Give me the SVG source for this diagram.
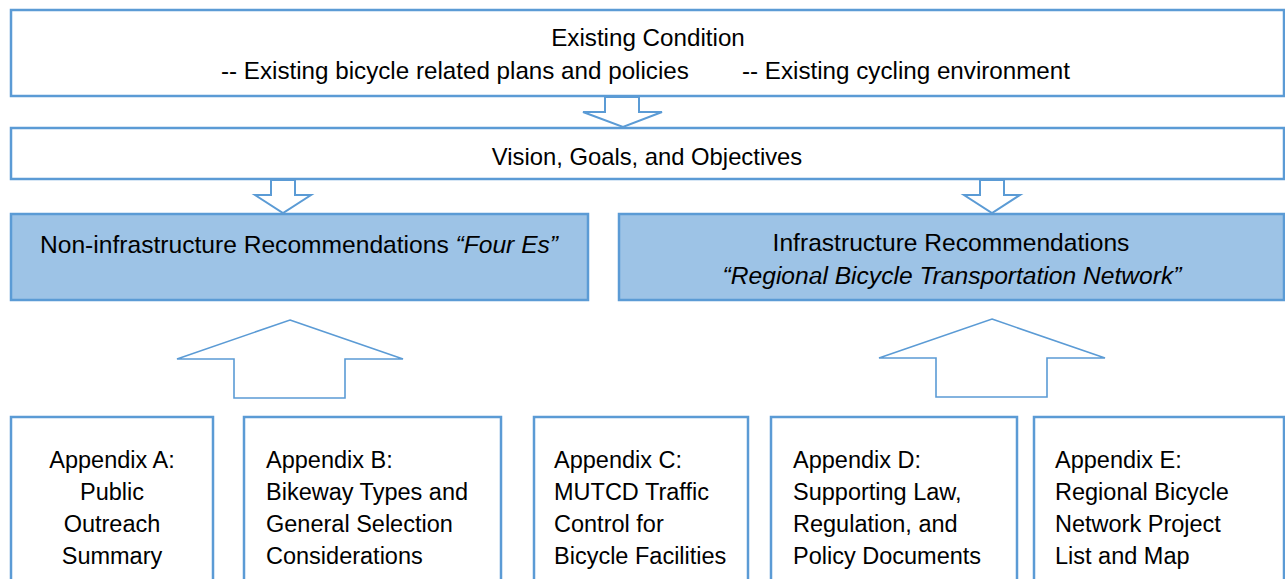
<svg xmlns="http://www.w3.org/2000/svg" width="1285" height="579" viewBox="0 0 1285 579">
<style>
.box{fill:#ffffff;stroke:#5B9BD5;stroke-width:2.5}
.blue{fill:#9DC3E6;stroke:#5B9BD5;stroke-width:2.5}
.arr{fill:#ffffff;stroke:#5B9BD5;stroke-width:2;stroke-linejoin:miter}
.arr2{fill:#ffffff;stroke:#5B9BD5;stroke-width:1.6}
text{font-family:"Liberation Sans",Arial,sans-serif;font-size:23.5px;fill:#000000}
.top{font-size:24.2px}
.mid{font-size:23.8px}
.bl{font-size:24.6px}
.c{text-anchor:middle}
.i{font-style:italic}
</style>
<rect width="1285" height="579" fill="#ffffff"/>
<g id="existing-condition">
<rect class="box" x="11" y="10" width="1273" height="86"/>
<text class="c top" x="648" y="46">Existing Condition</text>
<text class="top" x="221" y="79">-- Existing bicycle related plans and policies</text>
<text class="top" x="742" y="79">-- Existing cycling environment</text>
</g>
<g id="vision">
<rect class="box" x="11" y="128" width="1273" height="51"/>
<text class="c mid" x="647" y="165">Vision, Goals, and Objectives</text>
</g>
<g id="non-infrastructure">
<rect class="blue" x="11" y="214" width="577" height="86"/>
<text class="bl" x="40" y="253">Non-infrastructure Recommendations <tspan class="i">“Four Es”</tspan></text>
</g>
<g id="infrastructure">
<rect class="blue" x="619" y="214" width="665" height="86"/>
<text class="c bl" x="951" y="251">Infrastructure Recommendations</text>
<text class="c i bl" x="952" y="284">“Regional Bicycle Transportation Network”</text>
</g>
<g id="appendix-a">
<rect class="box" x="11" y="417" width="202" height="180"/>
<text class="c" x="112" y="468">Appendix A:</text>
<text class="c" x="112" y="500">Public</text>
<text class="c" x="112" y="532">Outreach</text>
<text class="c" x="112" y="564">Summary</text>
</g>
<g id="appendix-b">
<rect class="box" x="244" y="417" width="257" height="180"/>
<text x="266" y="468">Appendix B:</text>
<text x="266" y="500">Bikeway Types and</text>
<text x="266" y="532">General Selection</text>
<text x="266" y="564">Considerations</text>
</g>
<g id="appendix-c">
<rect class="box" x="534" y="417" width="214" height="180"/>
<text x="554" y="468">Appendix C:</text>
<text x="554" y="500">MUTCD Traffic</text>
<text x="554" y="532">Control for</text>
<text x="554" y="564">Bicycle Facilities</text>
</g>
<g id="appendix-d">
<rect class="box" x="771" y="417" width="246" height="180"/>
<text x="793" y="468">Appendix D:</text>
<text x="793" y="500">Supporting Law,</text>
<text x="793" y="532">Regulation, and</text>
<text x="793" y="564">Policy Documents</text>
</g>
<g id="appendix-e">
<rect class="box" x="1034" y="417" width="250" height="180"/>
<text x="1055" y="468">Appendix E:</text>
<text x="1055" y="500">Regional Bicycle</text>
<text x="1055" y="532">Network Project</text>
<text x="1055" y="564">List and Map</text>
</g>
<g id="connectors">
<polygon class="arr" points="605,97 639,97 639,112 662,112 623,127 583,112 605,112"/>
<polygon class="arr" points="271,180 295,180 295,195 311,195 283,213 255,195 271,195"/>
<polygon class="arr" points="980,180 1004,180 1004,195 1020,195 992,213 964,195 980,195"/>
<polygon class="arr2" points="290,320 403,359 345,359 345,398 234,398 234,359 177,359"/>
<polygon class="arr2" points="992,319 1105,358 1047,358 1047,397 936,397 936,358 879,358"/>
</g>
</svg>
